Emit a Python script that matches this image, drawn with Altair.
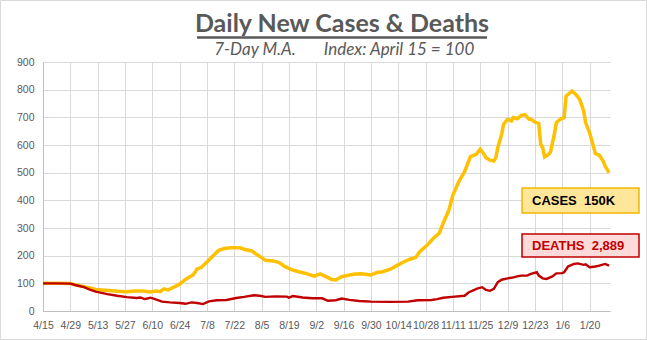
import altair as alt
import pandas as pd

# ---- data (day index from April 15 = 0, index value with April 15 = 100) ----
case_days = [0, 7, 14, 17, 21, 24, 27, 32, 38, 43, 47, 51, 55, 58, 60, 62, 64, 67, 70, 73,
             77, 79, 81, 84, 87, 90, 93, 96, 101, 103, 107, 109, 112, 114, 118, 121, 124, 128,
             131, 135, 139, 142, 145, 148, 150, 153, 157, 160, 163, 168, 171, 174, 178, 181,
             185, 188, 191, 193, 197, 200, 203, 205, 208, 210, 213, 216, 217, 219, 222, 224,
             226, 227, 229, 231, 232, 233, 235, 236, 238, 240, 241, 243, 245, 247, 249, 250,
             252, 254, 255, 256, 257, 259, 260, 262, 263, 265, 267, 268, 270, 271, 273, 275,
             277, 278, 280, 282, 283, 285, 287, 288, 290]
case_vals = [100, 100, 99, 94, 88, 83, 78, 75, 71, 70, 72, 72, 69, 72, 70, 80, 76, 86, 97, 114,
             131, 152, 157, 177, 199, 219, 226, 229, 229, 223, 217, 207, 193, 183, 181, 175, 160, 148,
             142, 135, 126, 134, 124, 114, 112, 124, 130, 134, 135, 130, 139, 142, 151, 163,
             178, 187, 194, 214, 239, 263, 281, 317, 365, 419, 467, 504, 522, 558, 566, 585,
             566, 554, 545, 542, 554, 590, 639, 675, 693, 687, 699, 695, 707, 710, 693, 693,
             683, 678, 602, 590, 557, 566, 575, 639, 681, 693, 699, 777, 789, 795, 783, 765,
             723, 681, 645, 596, 569, 563, 542, 524, 500]

death_days = [0, 7, 14, 17, 21, 24, 27, 33, 38, 43, 48, 50, 52, 55, 57, 61, 65, 70, 73, 76,
              79, 82, 85, 89, 94, 99, 103, 108, 111, 114, 119, 125, 126, 128, 133, 138, 143, 146,
              150, 153, 157, 162, 168, 178, 187, 192, 199, 202, 205, 211, 216, 218, 221, 222,
              225, 227, 229, 231, 233, 235, 238, 240, 243, 245, 248, 250, 253, 254, 256, 258,
              261, 263, 266, 267, 269, 272, 274, 277, 278, 280, 283, 285, 288, 290]
death_vals = [100, 100, 99, 93, 86, 77, 70, 61, 55, 50, 47, 49, 43, 48, 44, 34, 31, 29, 26, 31,
              29, 25, 35, 39, 40, 47, 51, 57, 55, 51, 53, 52, 48, 54, 49, 46, 46, 37,
              39, 45, 40, 36, 34, 33, 34, 39, 40, 43, 48, 52, 55, 67, 76, 80,
              86, 76, 73, 80, 104, 113, 118, 120, 125, 128, 128, 134, 140, 128, 118, 116,
              125, 136, 137, 140, 161, 170, 172, 167, 169, 158, 161, 164, 170, 164]

tick_days = list(range(0, 281, 14))
tick_labels = ["4/15", "4/29", "5/13", "5/27", "6/10", "6/24", "7/8", "7/22", "8/5", "8/19",
               "9/2", "9/16", "9/30", "10/14", "10/28", "11/11", "11/25", "12/9", "12/23",
               "1/6", "1/20"]
y_ticks = list(range(0, 901, 100))

title_text = "Daily New Cases & Deaths"
sub_left = "7-Day M.A."
sub_right = "Index: April 15 = 100"
cases_label = "CASES\u00a0\u00a0150K"
deaths_label = "DEATHS\u00a0\u00a02,889"

cases_df = pd.DataFrame({"day": case_days, "value": case_vals})
deaths_df = pd.DataFrame({"day": death_days, "value": death_vals})

W, H = 567, 249
FONT = "Liberation Sans"
GRAY = "#595959"

label_arr = "[" + ",".join("'" + t + "'" for t in tick_labels) + "]"

x_enc = alt.X("day:Q",
              scale=alt.Scale(domain=[0, 290.5], nice=False, zero=False),
              axis=alt.Axis(values=tick_days, labelExpr=label_arr + "[round(datum.value/14)]",
                            title=None, grid=True, gridColor="#D9D9D9", ticks=False,
                            domainColor="#BFBFBF", labelFont=FONT, labelFontSize=10.5,
                            labelColor=GRAY, labelPadding=9, labelFlush=False,
                            labelOverlap=False))
y_enc = alt.Y("value:Q",
              scale=alt.Scale(domain=[0, 900], nice=False),
              axis=alt.Axis(values=y_ticks, title=None, grid=True, gridColor="#D9D9D9",
                            ticks=False, domainColor="#BFBFBF", labelFont=FONT,
                            labelFontSize=10.5, labelColor=GRAY, labelPadding=9,
                            labelOverlap=False))

cases_line = alt.Chart(cases_df).mark_line(color="#FFC000", strokeWidth=3.5).encode(x=x_enc, y=y_enc)
deaths_line = alt.Chart(deaths_df).mark_line(color="#C00000", strokeWidth=2.4).encode(x=x_enc, y=y_enc)

one = alt.Data(values=[{}])

def txt(text, x, y, size, color, weight="normal", style="normal", align="center", font=FONT):
    return alt.Chart(one).mark_text(text=text, fontSize=size, color=color, fontWeight=weight,
                                    fontStyle=style, align=align, baseline="alphabetic",
                                    font=font).encode(x=alt.value(x), y=alt.value(y))

def box(x1, x2, y1, y2, fill, stroke):
    return alt.Chart(one).mark_rect(fill=fill, stroke=stroke, strokeWidth=1.5).encode(
        x=alt.value(x1), x2=alt.value(x2), y=alt.value(y1), y2=alt.value(y2))

border = alt.Chart(one).mark_rect(fill=None, fillOpacity=0, stroke="#D9D9D9", strokeWidth=1).encode(
    x=alt.value(-42.5), x2=alt.value(603.5), y=alt.value(-61.5), y2=alt.value(277.5))

title = txt(title_text, 299, -30, 25, GRAY, weight="bold", font="Lato")
underline = alt.Chart(one).mark_rule(color=GRAY, strokeWidth=2.5).encode(
    x=alt.value(154), x2=alt.value(444), y=alt.value(-24.5))
sub1 = txt(sub_left, 212, -7.5, 17, GRAY, style="italic", font="Lato")
sub2 = txt(sub_right, 356, -7.5, 17, GRAY, style="italic", font="Lato")

cases_box = box(479, 596, 126, 151, "#FFE699", "#F2B800")
deaths_box = box(479, 596, 172, 195, "#FFDADA", "#C00000")
cases_txt = txt(cases_label, 489, 143, 13, "#000000", weight="bold", align="left")
deaths_txt = txt(deaths_label, 489, 188, 13, "#C00000", weight="bold", align="left")

chart = alt.layer(border, cases_line, deaths_line, cases_box, deaths_box, cases_txt, deaths_txt,
                  title, underline, sub1, sub2).properties(
    width=W, height=H,
    padding={"left": 43, "top": 62, "right": 37, "bottom": 29},
    autosize=alt.AutoSizeParams(type="none"),
    background="white",
).configure_view(stroke=None)

chart.save("out.html", embed_options={"renderer": "svg", "actions": False})
